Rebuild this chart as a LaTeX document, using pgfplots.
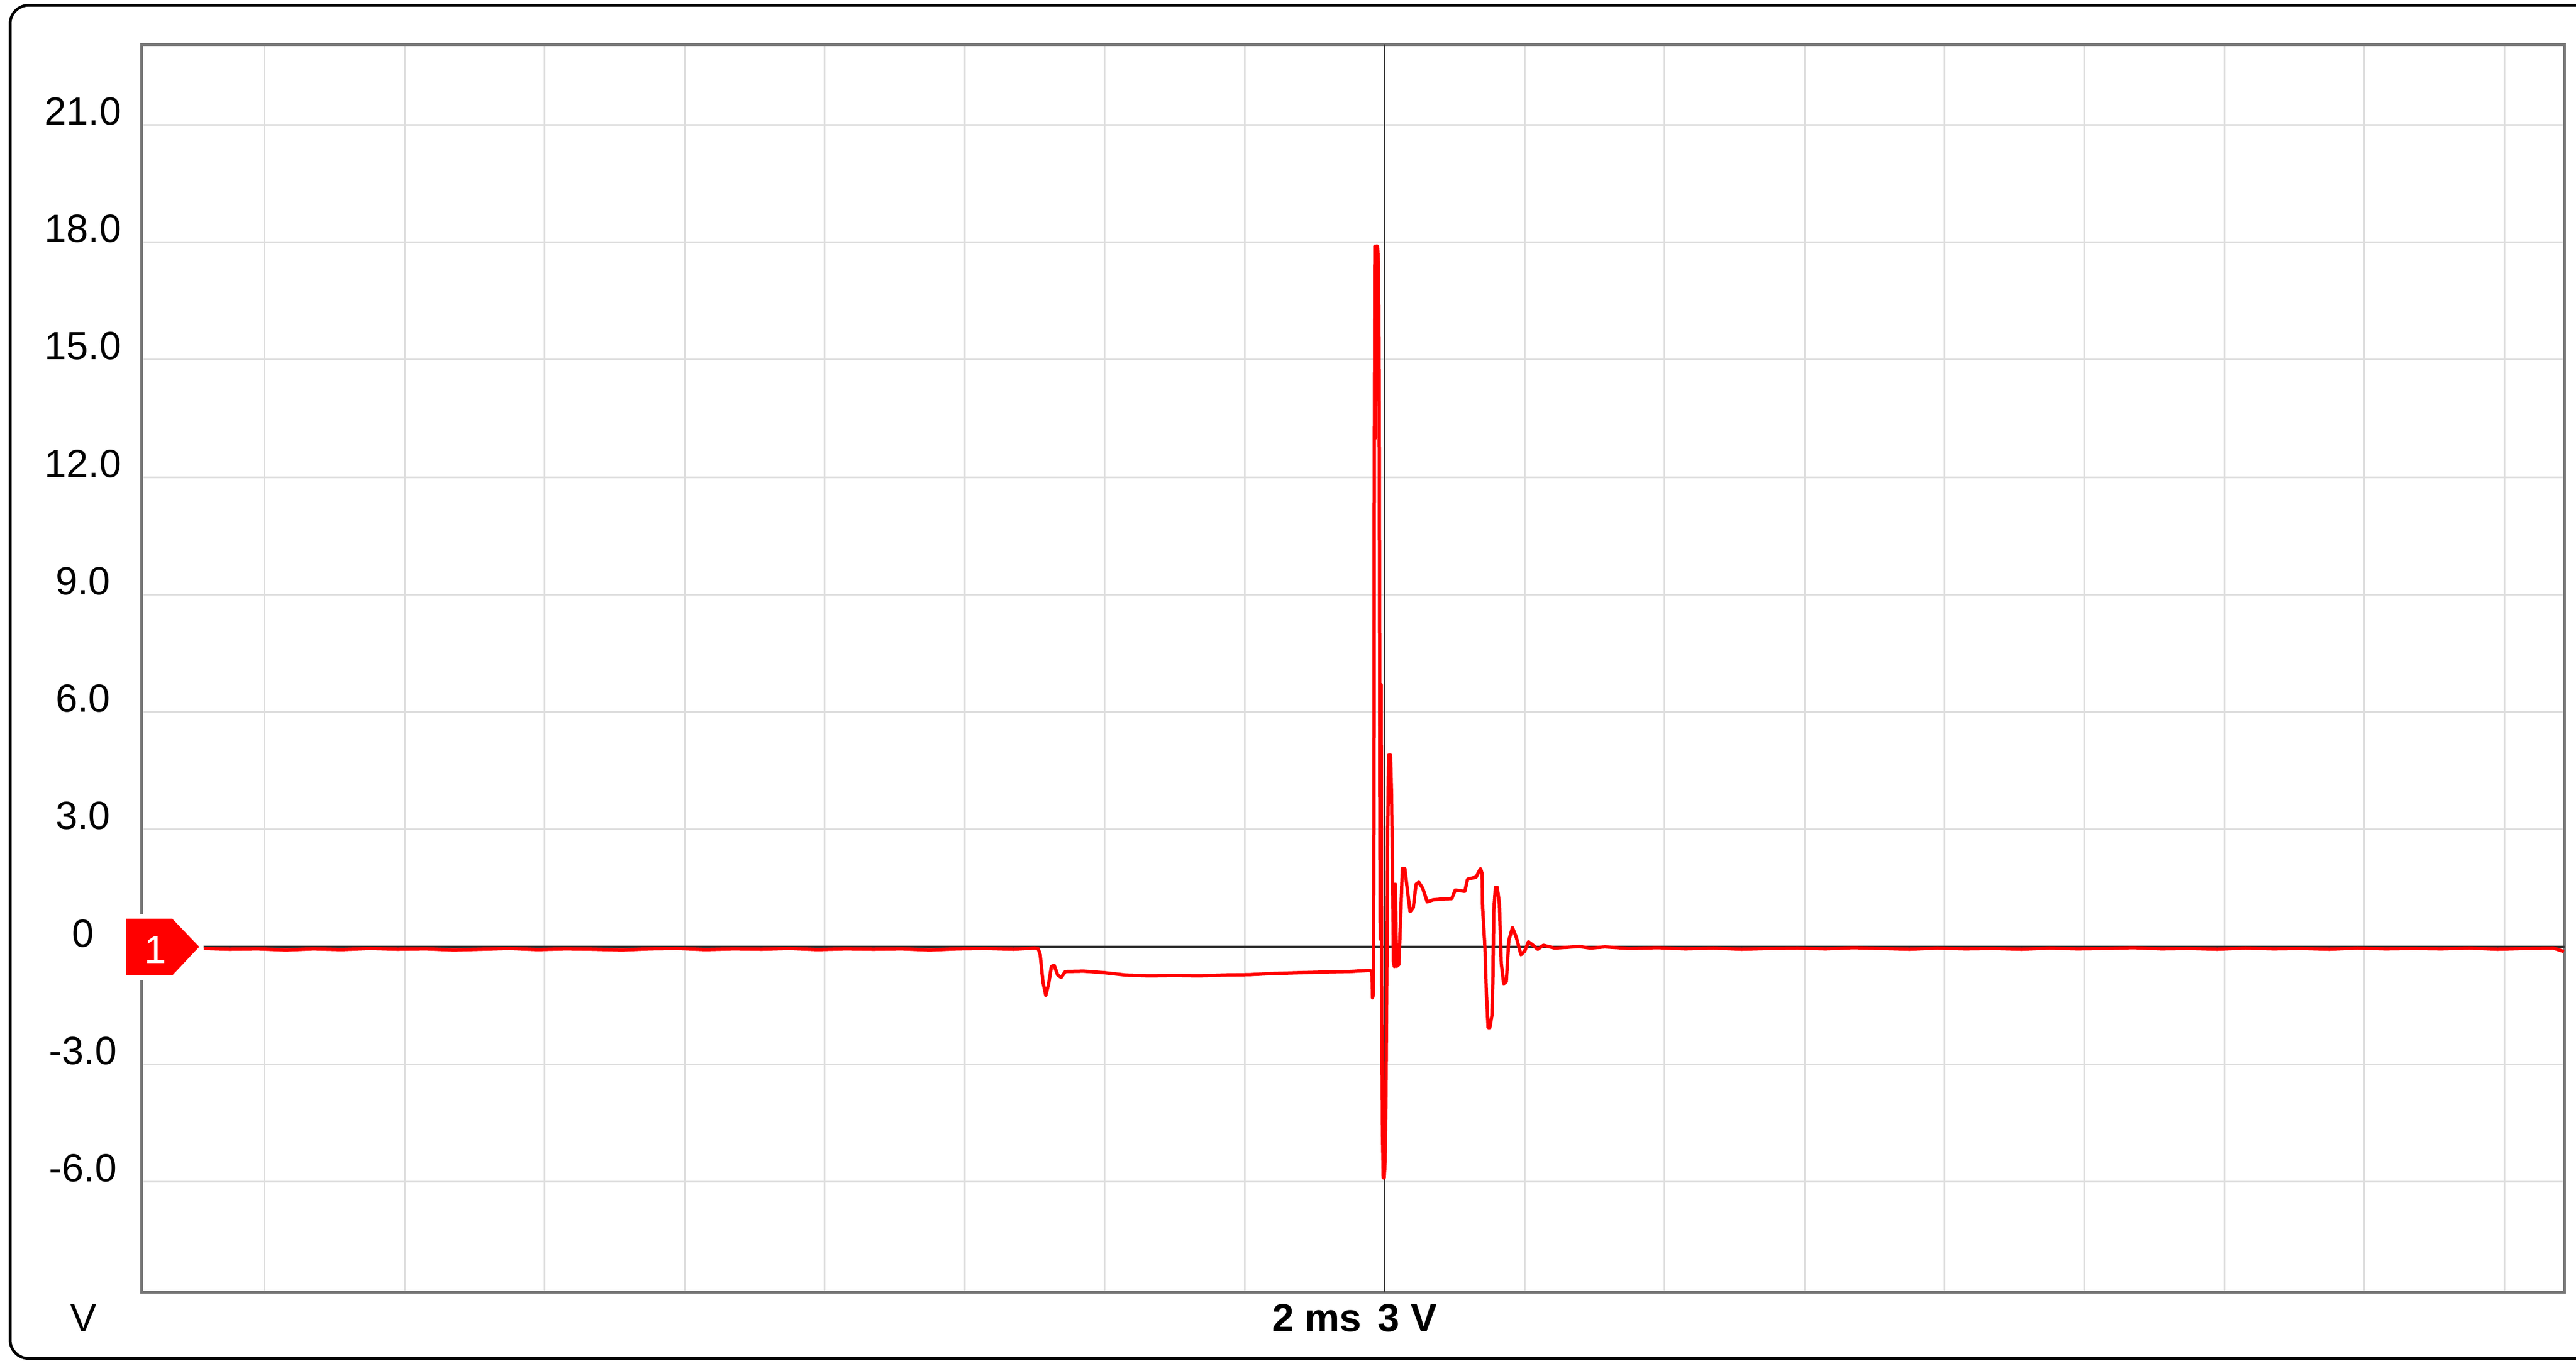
\documentclass[border=0pt]{standalone}
\usepackage{fontspec}
\setmainfont{Liberation Sans}
\setsansfont{Liberation Sans}
\usepackage{pgfplots}
\usepackage{pgfplotstable}
\pgfplotsset{compat=1.18}

\definecolor{trace}{RGB}{255,0,0}
\definecolor{gridgray}{RGB}{222,222,222}
\definecolor{framegray}{RGB}{120,120,120}
\definecolor{zerogray}{RGB}{55,55,55}

% channel 1, time in ms (0 = trigger), voltage in V
\pgfplotstableread{
t v
-16.87 -0.04
-16.5 -0.06
-16.1 -0.05
-15.7 -0.08
-15.3 -0.05
-14.9 -0.07
-14.5 -0.04
-14.1 -0.06
-13.7 -0.05
-13.3 -0.08
-12.9 -0.06
-12.5 -0.04
-12.1 -0.07
-11.7 -0.05
-11.3 -0.06
-10.9 -0.08
-10.5 -0.05
-10.1 -0.04
-9.7 -0.07
-9.3 -0.05
-8.9 -0.06
-8.5 -0.04
-8.1 -0.07
-7.7 -0.05
-7.3 -0.06
-6.9 -0.05
-6.5 -0.08
-6.1 -0.05
-5.7 -0.04
-5.3 -0.06
-5.0 -0.03
-4.95 -0.04
-4.92 -0.2
-4.88 -0.9
-4.84 -1.24
-4.80 -0.95
-4.76 -0.5
-4.72 -0.47
-4.67 -0.72
-4.62 -0.78
-4.56 -0.63
-4.3 -0.62
-4.0 -0.66
-3.7 -0.72
-3.36 -0.74
-3.0 -0.73
-2.65 -0.74
-2.3 -0.72
-1.93 -0.71
-1.6 -0.68
-1.21 -0.66
-0.8 -0.64
-0.5 -0.63
-0.21 -0.60
-0.18 -0.64
-0.172 -1.30
-0.158 -1.20
-0.152 3.4
-0.146 12.4
-0.138 17.9
-0.130 13.0
-0.122 17.9
-0.100 17.9
-0.085 17.4
-0.075 13.3
-0.068 5.0
-0.062 0.2
-0.055 6.7
-0.048 6.7
-0.040 -1.5
-0.030 -4.7
-0.018 -5.9
-0.005 -5.9
0.008 -5.5
0.020 -3.8
0.035 -0.2
0.045 3.0
0.060 4.9
0.085 4.9
0.100 3.9
0.115 1.8
0.128 -0.4
0.140 -0.5
0.155 1.6
0.170 -0.5
0.205 -0.45
0.235 1.0
0.255 2.0
0.290 2.0
0.330 1.4
0.365 0.9
0.410 1.0
0.450 1.6
0.490 1.65
0.545 1.5
0.610 1.15
0.690 1.2
0.746 1.21
0.80 1.22
0.96 1.23
1.01 1.45
1.147 1.42
1.187 1.73
1.307 1.78
1.371 2.0
1.393 1.88
1.401 1.02
1.435 -0.03
1.454 -1.13
1.480 -2.06
1.505 -2.06
1.534 -1.75
1.548 -0.89
1.561 0.92
1.585 1.52
1.610 1.52
1.641 1.11
1.668 -0.42
1.703 -0.94
1.740 -0.89
1.775 0.16
1.828 0.49
1.882 0.25
1.949 -0.20
2.002 -0.11
2.056 0.13
2.109 0.06
2.189 -0.06
2.27 0.04
2.43 -0.03
2.62 -0.01
2.78 0.01
2.94 -0.03
3.15 0.0
3.5 -0.04
3.9 -0.02
4.3 -0.05
4.7 -0.03
5.1 -0.06
5.5 -0.04
5.9 -0.03
6.3 -0.05
6.7 -0.02
7.1 -0.04
7.5 -0.06
7.9 -0.03
8.3 -0.05
8.7 -0.04
9.1 -0.06
9.5 -0.03
9.9 -0.05
10.3 -0.04
10.7 -0.02
11.1 -0.05
11.5 -0.04
11.9 -0.06
12.3 -0.03
12.7 -0.05
13.1 -0.04
13.5 -0.06
13.9 -0.03
14.3 -0.05
14.7 -0.04
15.1 -0.05
15.5 -0.03
15.9 -0.06
16.3 -0.04
16.7 -0.03
16.85 -0.12
}\chone

\begin{document}
\begin{tikzpicture}
\useasboundingbox (0,0) rectangle (459.1pt,242.5pt);
\clip (0,0) rectangle (459.1pt,242.5pt);

% rounded screen frame (right side runs off the picture)
\draw[black, line width=0.5pt, rounded corners=3.3pt] (1.8pt,0.45pt) rectangle (470pt,241.55pt);

\begin{axis}[
    scale only axis,
    width=431.8pt, height=222.35pt,
    at={(25.25pt,12.2pt)}, anchor=south west,
    xmin=-17.757, xmax=16.859,
    ymin=-8.83, ymax=23.05,
    xtick={-16,-14,...,16},
    xticklabels={},
    ytick={-6,-3,...,21},
    yticklabels={-6.0,-3.0,0,3.0,6.0,9.0,12.0,15.0,18.0,21.0},
    major tick length=0pt,
    grid=major,
    major grid style={draw=gridgray, line width=0.3pt},
    axis line style={draw=framegray, line width=0.5pt},
    yticklabel style={font=\fontsize{7}{8}\selectfont, anchor=base, inner sep=0pt, xshift=-10.45pt},
]
% zero reference lines
\draw[zerogray, line width=0.35pt] (axis cs:-17.757,0) -- (axis cs:16.859,0);
\draw[zerogray, line width=0.35pt] (axis cs:0,-8.83) -- (axis cs:0,23.05);

\addplot[trace, line width=0.6pt, line join=round, no markers] table[x=t, y=v] {\chone};
\end{axis}

% channel marker
\draw[white, line width=1.6pt, line join=round]
  (22.5pt,78.8pt) -- (30.7pt,78.8pt) -- (35.5pt,73.8pt) -- (30.7pt,68.7pt) -- (22.5pt,68.7pt) -- cycle;
\fill[trace]
  (22.5pt,78.8pt) -- (30.7pt,78.8pt) -- (35.5pt,73.8pt) -- (30.7pt,68.7pt) -- (22.5pt,68.7pt) -- cycle;
\node[white, font=\fontsize{7}{8}\selectfont, inner sep=0pt, anchor=base] at (27.7pt,70.8pt) {1};

% unit and scale texts
\node[font=\fontsize{7}{8}\selectfont, inner sep=0pt, anchor=base] at (14.9pt,5.2pt) {V};
\node[font=\fontsize{7}{8}\selectfont\bfseries, inner sep=0pt, anchor=base] at (241.4pt,5.2pt) {2 ms\hspace{1pt} 3 V};
\end{tikzpicture}
\end{document}
